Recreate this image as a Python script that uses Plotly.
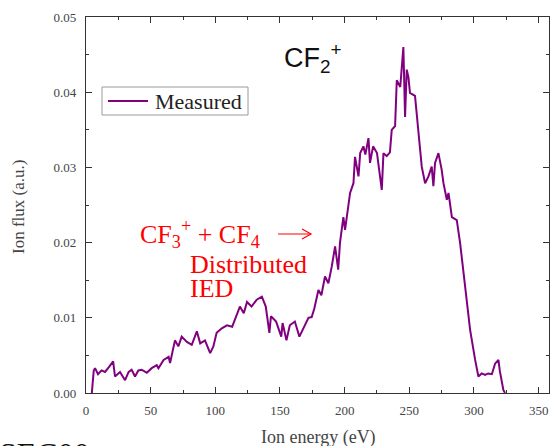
import plotly.graph_objects as go

energy = [4.5, 6.0, 7.0, 9.3, 12, 14.7, 18, 21, 22.4, 26.3, 30.2, 33, 35.3, 37.9, 40.5, 43, 47,
          50.8, 54.7, 56, 60, 63.9, 65, 68.8, 71.4, 74, 78, 81.8, 85.7, 88.3, 92, 96, 98.5,
          101, 105, 109, 113, 115.5, 119, 122, 124.5, 128, 132, 136, 139, 141.8, 143, 147,
          151, 152, 155, 157.6, 161.5, 165, 168, 172, 174.5, 176.5, 179.7, 182, 184.8, 187.4,
          190, 192.6, 195, 196.4, 199, 200.3, 204.2, 206.8, 208, 210.7, 212, 214.5, 216,
          218.4, 219.6, 222, 225, 227.4, 228.7, 230, 232.5, 235, 236.4, 239, 240.3, 243,
          244.2, 245.4, 246.7, 248, 249.3, 250.5, 254.4, 255.7, 257, 259.6, 262.2, 264.8,
          267.3, 268.6, 269.9, 272.5, 275, 276.4, 279, 280.3, 282.9, 286.7, 289.3, 291.8,
          294.4, 297, 300.9, 303.4, 306, 308.6, 311, 313.8, 316.3, 318.9, 320, 322.7, 324]
flux = [0.0000, 0.0030, 0.0033, 0.0025, 0.0030, 0.0028, 0.0035, 0.0042, 0.0022, 0.0028, 0.0017,
        0.0028, 0.0031, 0.0022, 0.0030, 0.0031, 0.0027,
        0.0033, 0.0037, 0.0033, 0.0044, 0.0048, 0.0040, 0.0070, 0.0062, 0.0075, 0.0068, 0.0064,
        0.0082, 0.0066, 0.0070, 0.0053, 0.0062,
        0.0080, 0.0086, 0.0090, 0.0088, 0.0099, 0.0115, 0.0106, 0.0121, 0.0115, 0.0124, 0.0128,
        0.0115, 0.0080, 0.0102, 0.0095,
        0.0075, 0.0093, 0.0070, 0.0090, 0.0095, 0.0075, 0.0086, 0.0100, 0.0101, 0.0112, 0.0137,
        0.0130, 0.0155, 0.0146,
        0.0168, 0.0195, 0.0164, 0.0200, 0.0234, 0.0217, 0.0266, 0.0279, 0.0314, 0.0288, 0.0319,
        0.0328, 0.0317,
        0.0339, 0.0306, 0.0328, 0.0319, 0.0288, 0.0270, 0.0319, 0.0315, 0.0320, 0.0350, 0.0355,
        0.0416, 0.0407,
        0.0430, 0.0460, 0.0367, 0.0430, 0.0420, 0.0399, 0.0395, 0.0372, 0.0341, 0.0301, 0.0279,
        0.0288,
        0.0301, 0.0275, 0.0306, 0.0319, 0.0297, 0.0279, 0.0257, 0.0266, 0.0234, 0.0230, 0.0199,
        0.0164,
        0.0128, 0.0084, 0.0044, 0.0022, 0.0026, 0.0024, 0.0026, 0.0025, 0.0039, 0.0044, 0.0029,
        0.0004, 0.0000]

x_ticks = [0, 50, 100, 150, 200, 250, 300, 350]
y_ticks = [0.00, 0.01, 0.02, 0.03, 0.04, 0.05]
y_tick_labels = ["0.00", "0.01", "0.02", "0.03", "0.04", "0.05"]
series_name = "Measured"
line_color = "#800080"

W, H = 551, 446
L, R, T, B = 86, 549, 17, 393


def px(x):
    return (x - L) / (R - L)


def py(y):
    return (B - y) / (B - T)


serif = "Liberation Serif, Times New Roman, serif"
sans = "Liberation Sans, Arial, sans-serif"

fig = go.Figure()
fig.add_trace(go.Scatter(x=energy, y=flux, mode="lines", name=series_name,
                         line=dict(color=line_color, width=2), showlegend=False))

axis_common = dict(showline=True, linecolor="#333333", linewidth=1.3, mirror="allticks",
                   ticks="inside", ticklen=6, tickwidth=1.2, tickcolor="#333333",
                   showgrid=False, zeroline=False,
                   tickfont=dict(family=serif, size=13, color="#444444"))

fig.update_layout(
    width=W, height=H,
    margin=dict(l=L, r=W - R, t=T, b=H - B),
    paper_bgcolor="white", plot_bgcolor="white",
    xaxis=dict(range=[0, 358], tickvals=x_ticks, ticklabelstandoff=5,
               minor=dict(dtick=25, tick0=0, ticks="inside", ticklen=3, tickcolor="#333333"),
               **axis_common),
    yaxis=dict(range=[0, 0.05], tickvals=y_ticks, ticktext=y_tick_labels, ticklabelstandoff=6,
               minor=dict(dtick=0.005, tick0=0, ticks="inside", ticklen=3, tickcolor="#333333"),
               **axis_common),
)

red = "#ff0000"
# legend box and annotation arrow drawn as shapes
shapes = [
    dict(type="rect", xref="paper", yref="paper", x0=px(102), x1=px(248), y0=py(115), y1=py(87),
         line=dict(color="#9a9a9a", width=1), fillcolor="white", layer="above"),
    dict(type="line", xref="paper", yref="paper", x0=px(108), x1=px(148), y0=py(101), y1=py(101),
         line=dict(color=line_color, width=2), layer="above"),
    dict(type="line", xref="paper", yref="paper", x0=px(278), x1=px(311), y0=py(234), y1=py(234),
         line=dict(color=red, width=1.2), layer="above"),
    dict(type="path", xref="paper", yref="paper",
         path="M {a},{b} L {c},{d} L {a},{e}".format(a=px(302), b=py(229), c=px(311), d=py(234),
                                                      e=py(239)),
         line=dict(color=red, width=1.2), layer="above"),
]
fig.update_layout(shapes=shapes)

annotations = [
    dict(text=series_name, x=px(153), y=py(101), xref="paper", yref="paper",
         xanchor="left", yanchor="middle", showarrow=False,
         font=dict(family=serif, size=22, color="#222222")),
    dict(text="Ion energy (eV)", x=px(318), y=py(437), xref="paper", yref="paper",
         xanchor="center", yanchor="middle", showarrow=False,
         font=dict(family=serif, size=18, color="#444444")),
    dict(text="Ion flux (a.u.)", x=px(19), y=py(207), xref="paper", yref="paper",
         xanchor="center", yanchor="middle", showarrow=False, textangle=-90,
         font=dict(family=serif, size=17, color="#444444")),
    dict(text="CF<sub>2</sub><sup>+</sup>", x=px(282), y=py(58), xref="paper", yref="paper",
         xanchor="left", yanchor="middle", showarrow=False,
         font=dict(family=sans, size=27, color="#111111")),
    dict(text="CF<sub>3</sub><sup>+</sup> + CF<sub>4</sub>", x=px(138), y=py(234),
         xref="paper", yref="paper", xanchor="left", yanchor="middle", showarrow=False,
         font=dict(family=serif, size=26, color=red)),
    dict(text="Distributed", x=px(188), y=py(264), xref="paper", yref="paper",
         xanchor="left", yanchor="middle", showarrow=False,
         font=dict(family=serif, size=26, color=red)),
    dict(text="IED", x=px(188), y=py(288), xref="paper", yref="paper",
         xanchor="left", yanchor="middle", showarrow=False,
         font=dict(family=serif, size=26, color=red)),
    dict(text="SEC00", x=px(-3), y=py(434), xref="paper", yref="paper",
         xanchor="left", yanchor="top", showarrow=False,
         font=dict(family=serif, size=32, color="#111111")),
]
fig.update_layout(annotations=annotations)

fig.write_html("out.html")
